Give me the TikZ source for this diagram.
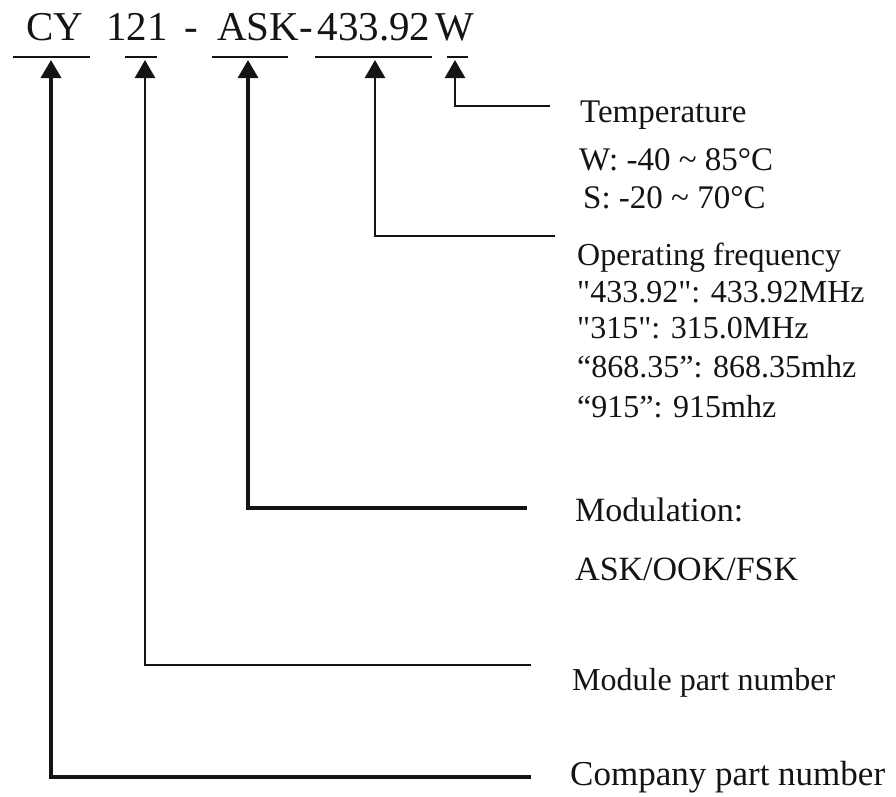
\documentclass[tikz,border=0pt]{standalone}
\usepackage{fontspec}
\setmainfont{Liberation Serif}
\newfontfamily\rawserif{Liberation Serif}
\usepackage{tikz}
\usetikzlibrary{arrows.meta}
\definecolor{inkblack}{HTML}{141414}
\newcommand{\sq}{{\rawserif"}}
\tikzset{
  link/.style={draw=inkblack, line width=2.6pt, -{Triangle[width=20pt,length=18pt]}},
  uline/.style={draw=inkblack, line width=2.6pt},
  codepart/.style={anchor=base, inner sep=0pt, text=inkblack, font=\fontsize{41}{48}\selectfont},
  lbl/.style={anchor=base west, inner sep=0pt, text=inkblack},
}

\begin{document}
\begin{tikzpicture}[x=1pt,y=-1pt]
\useasboundingbox (0,0) rectangle (896,796);
% Part number code
\node[codepart] (cy)   at (55,40)  {CY};
\node[codepart] (num)  at (137,40) {121};
\node[codepart] (dash) at (191,40) {-};
\node[codepart] (ask)  at (265,40) {ASK-};
\node[codepart] (frq)  at (374,40) {433.92};
\node[codepart] (wt)   at (455,40) {W};
% Underlines below each field
\foreach \xa/\xb in {13/90,125/157,212/288,315/432,447/468}
  \draw[uline] (\xa,57) -- (\xb,57);
% Arrow tips under the fields
\coordinate (tcy)  at (51,60);
\coordinate (tnum) at (145,60);
\coordinate (task) at (248,60);
\coordinate (tfrq) at (375,60);
\coordinate (twt)  at (455,60);
% Free ends of the leader lines
\coordinate (etemp) at (550,106);
\coordinate (efrq)  at (555,236);
\coordinate (emod)  at (527,508);
\coordinate (epart) at (531,665);
\coordinate (ecomp) at (531,777);
% Temperature
\node[lbl, font=\fontsize{33}{40}\selectfont] (temp)  at (580,122) {Temperature};
\node[lbl, font=\fontsize{33}{40}\selectfont] (tempw) at (579,170) {W: -40 \textasciitilde{} 85°C};
\node[lbl, font=\fontsize{33}{40}\selectfont] (temps) at (583,208) {S: -20 \textasciitilde{} 70°C};
% Operating frequency
\node[lbl, font=\fontsize{32}{38}\selectfont] (opf)  at (577,265) {Operating frequency};
\node[lbl, font=\fontsize{32}{38}\selectfont] (opfa) at (577,302) {\sq433.92\sq: 433.92MHz};
\node[lbl, font=\fontsize{32}{38}\selectfont] (opfb) at (577,338) {\sq315\sq: 315.0MHz};
\node[lbl, font=\fontsize{32}{38}\selectfont] (opfc) at (577,377) {“868.35”: 868.35mhz};
\node[lbl, font=\fontsize{32}{38}\selectfont] (opfd) at (577,417) {“915”: 915mhz};
% Modulation
\node[lbl, font=\fontsize{34}{40}\selectfont] (mod)  at (575,521) {Modulation:};
\node[lbl, font=\fontsize{34}{40}\selectfont] (modt) at (575,580) {ASK/OOK/FSK};
% Part numbers
\node[lbl, font=\fontsize{32}{38}\selectfont] (part) at (572,690) {Module part number};
\node[lbl, font=\fontsize{35}{42}\selectfont] (comp) at (570,785) {Company part number};
% Leader lines
\draw[link] (etemp) -| (twt);
\draw[link] (efrq) -| (tfrq);
\draw[link, line width=3.2pt] (emod) -| (task);
\draw[link] (epart) -| (tnum);
\draw[link, line width=3.6pt] (ecomp) -| (tcy);
\end{tikzpicture}
\end{document}
